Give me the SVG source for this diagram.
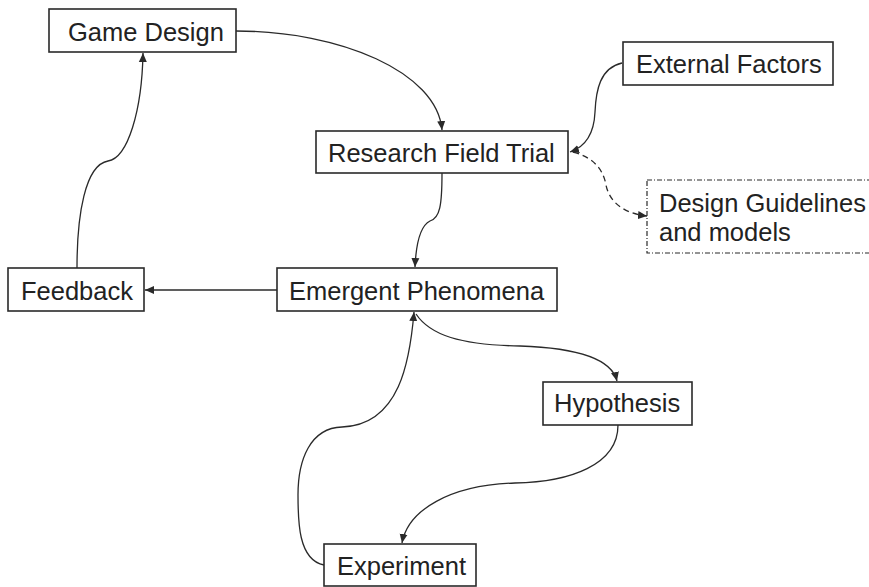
<svg xmlns="http://www.w3.org/2000/svg" width="869" height="587" viewBox="0 0 869 587">
<style>
.box{fill:#fff;stroke:#2a2a2a;stroke-width:1.6}
.dbox{fill:#fff;stroke:#2a2a2a;stroke-width:1.2;stroke-dasharray:5 2 1 2}
.t{font-family:"Liberation Sans",Arial,sans-serif;font-size:25.5px;fill:#222}
.c{fill:none;stroke:#2a2a2a;stroke-width:1.3}
.d{stroke-dasharray:6 4}
</style>
<defs>
<marker id="ah" markerUnits="userSpaceOnUse" markerWidth="10" markerHeight="10" refX="9" refY="5" orient="auto">
<path d="M0,1 L9,5 L0,9 Z" fill="#2a2a2a"/>
</marker>
</defs>
<rect width="869" height="587" fill="#fff"/>
<g id="connectors">
<path class="c" d="M236,31 C340,31 437,72 442,130" marker-end="url(#ah)"/>
<path class="c" d="M622,63 C600,68 596,90 595,112 C594,135 585,147 570,152" marker-end="url(#ah)"/>
<path class="c d" d="M573,152 C592,157 603,168 606,185 C610,205 628,214 647,216" marker-end="url(#ah)"/>
<path class="c" d="M442,173 C442,205 440,218 430,221 C420,226 416,245 415,267" marker-end="url(#ah)"/>
<path class="c" d="M277,290 L145,290" marker-end="url(#ah)"/>
<path class="c" d="M77,268 C77,215 85,165 108,161 C128,158 142,110 143,53" marker-end="url(#ah)"/>
<path class="c" d="M416,314 C430,335 460,345 520,346 C580,348 612,360 617,381" marker-end="url(#ah)"/>
<path class="c" d="M618,425 C618,465 570,482 515,483 C450,485 408,510 402,543" marker-end="url(#ah)"/>
<path class="c" d="M324,565 C298,560 298,520 298,495 C298,460 310,428 342,427 C400,425 410,360 414,312" marker-end="url(#ah)"/>
</g>
<g id="game-design">
<rect class="box" x="49" y="9" width="187" height="43"/>
<text class="t" x="68" y="41">Game Design</text>
</g>
<g id="research-field-trial">
<rect class="box" x="316" y="131" width="252" height="42"/>
<text class="t" x="328" y="162">Research Field Trial</text>
</g>
<g id="external-factors">
<rect class="box" x="623" y="42" width="210" height="43"/>
<text class="t" x="636" y="73">External Factors</text>
</g>
<g id="design-guidelines">
<rect class="dbox" x="647" y="180" width="240" height="73"/>
<text class="t" x="659" y="212">Design Guidelines</text>
<text class="t" x="659" y="241">and models</text>
</g>
<g id="feedback">
<rect class="box" x="8" y="268" width="136" height="43"/>
<text class="t" x="21" y="300">Feedback</text>
</g>
<g id="emergent-phenomena">
<rect class="box" x="277" y="268" width="280" height="43"/>
<text class="t" x="289" y="300">Emergent Phenomena</text>
</g>
<g id="hypothesis">
<rect class="box" x="543" y="382" width="149" height="43"/>
<text class="t" x="554" y="412">Hypothesis</text>
</g>
<g id="experiment">
<rect class="box" x="324" y="544" width="152" height="42"/>
<text class="t" x="337" y="575">Experiment</text>
</g>
</svg>
